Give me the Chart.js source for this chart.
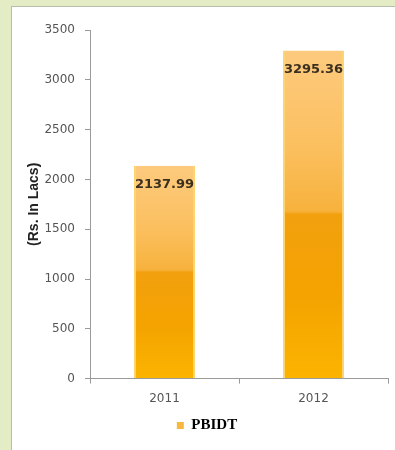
<!DOCTYPE html>
<html><head><meta charset="utf-8">
<script src="https://cdn.jsdelivr.net/npm/chart.js@4/dist/chart.umd.min.js"></script>
<style>
html,body{margin:0;padding:0;background:#e4ecc6;}
#panel{position:absolute;left:11px;top:6px;width:390px;height:450px;background:#fff;border:1px solid #b9bdab;box-sizing:border-box;}
#wrap{position:absolute;left:0;top:0;width:395px;height:450px;}
</style></head>
<body>
<div id="panel"></div>
<div id="wrap"><canvas id="c" width="395" height="450"></canvas></div>
<script>
const categories = ['2011', '2012'];
const seriesName = 'PBIDT';
const pbidt = [2137.99, 3295.36];
const yTicks = [0, 500, 1000, 1500, 2000, 2500, 3000, 3500];
const yTitle = '(Rs. In Lacs)';

function barFill(ctx) {
  const chart = ctx.chart;
  if (ctx.type !== 'data' || !chart.chartArea) return '#f6b440';
  const y = chart.scales.y;
  const top = y.getPixelForValue(ctx.parsed.y);
  const base = y.getPixelForValue(0);
  if (!isFinite(top) || base - top < 1) return '#f6b440';
  const g = chart.ctx.createLinearGradient(0, top, 0, base);
  g.addColorStop(0, '#fdca7e');
  g.addColorStop(0.3, '#fbbf5e');
  g.addColorStop(0.49, '#f7b23c');
  g.addColorStop(0.5, '#f2a00e');
  g.addColorStop(0.75, '#f4a300');
  g.addColorStop(1, '#fbb400');
  return g;
}

const valueLabels = {
  id: 'valueLabels',
  afterDatasetsDraw(chart) {
    const ctx = chart.ctx;
    const meta = chart.getDatasetMeta(0);
    ctx.save();
    ctx.font = 'bold 13px "DejaVu Sans"';
    ctx.fillStyle = '#3b3020';
    ctx.textAlign = 'center';
    ctx.textBaseline = 'middle';
    meta.data.forEach((el, i) => {
      ctx.fillText(pbidt[i].toFixed(2), el.x, el.y + 19);
    });
    ctx.restore();
  }
};

new Chart(document.getElementById('c'), {
  type: 'bar',
  data: {
    labels: categories,
    datasets: [{
      label: seriesName,
      data: pbidt,
      backgroundColor: barFill,
      borderColor: '#fdd46e',
      borderWidth: {left: 2, right: 2, top: 0, bottom: 0},
      borderSkipped: false,
      barPercentage: 0.41,
      categoryPercentage: 1.0
    }]
  },
  options: {
    responsive: false,
    animation: false,
    events: [],
    layout: {padding: {left: 26, right: 7, top: 30, bottom: 7}},
    plugins: {
      tooltip: {enabled: false},
      legend: {
        position: 'bottom',
        labels: {
          boxWidth: 7, boxHeight: 7, padding: 4,
          color: '#222',
          font: {family: '"Liberation Serif"', size: 15, weight: 'bold'},
          generateLabels: (chart) => [{
            text: seriesName, fillStyle: '#f6b840', strokeStyle: '#f6b840',
            lineWidth: 0, datasetIndex: 0, hidden: false
          }]
        }
      }
    },
    scales: {
      x: {
        offset: true,
        grid: {display: true, drawOnChartArea: false, offset: true, tickLength: 5, color: '#9a9a9a'},
        border: {color: '#9a9a9a', width: 1},
        ticks: {color: '#555', font: {family: '"DejaVu Sans"', size: 12}, padding: 8}
      },
      y: {
        min: 0, max: 3500,
        afterBuildTicks: (s) => { s.ticks = yTicks.map(v => ({value: v})); },
        afterFit: (s) => { s.width = 64; },
        grid: {display: true, drawOnChartArea: false, tickLength: 5, color: '#9a9a9a'},
        border: {color: '#9a9a9a', width: 1},
        ticks: {color: '#555', font: {family: '"DejaVu Sans"', size: 12}, padding: 10,
          callback: (v) => String(v)},
        title: {display: true, text: yTitle, color: '#222', padding: 0,
          font: {family: '"Liberation Sans"', size: 14, weight: 'bold'}}
      }
    }
  },
  plugins: [valueLabels]
});
</script>
</body></html>
